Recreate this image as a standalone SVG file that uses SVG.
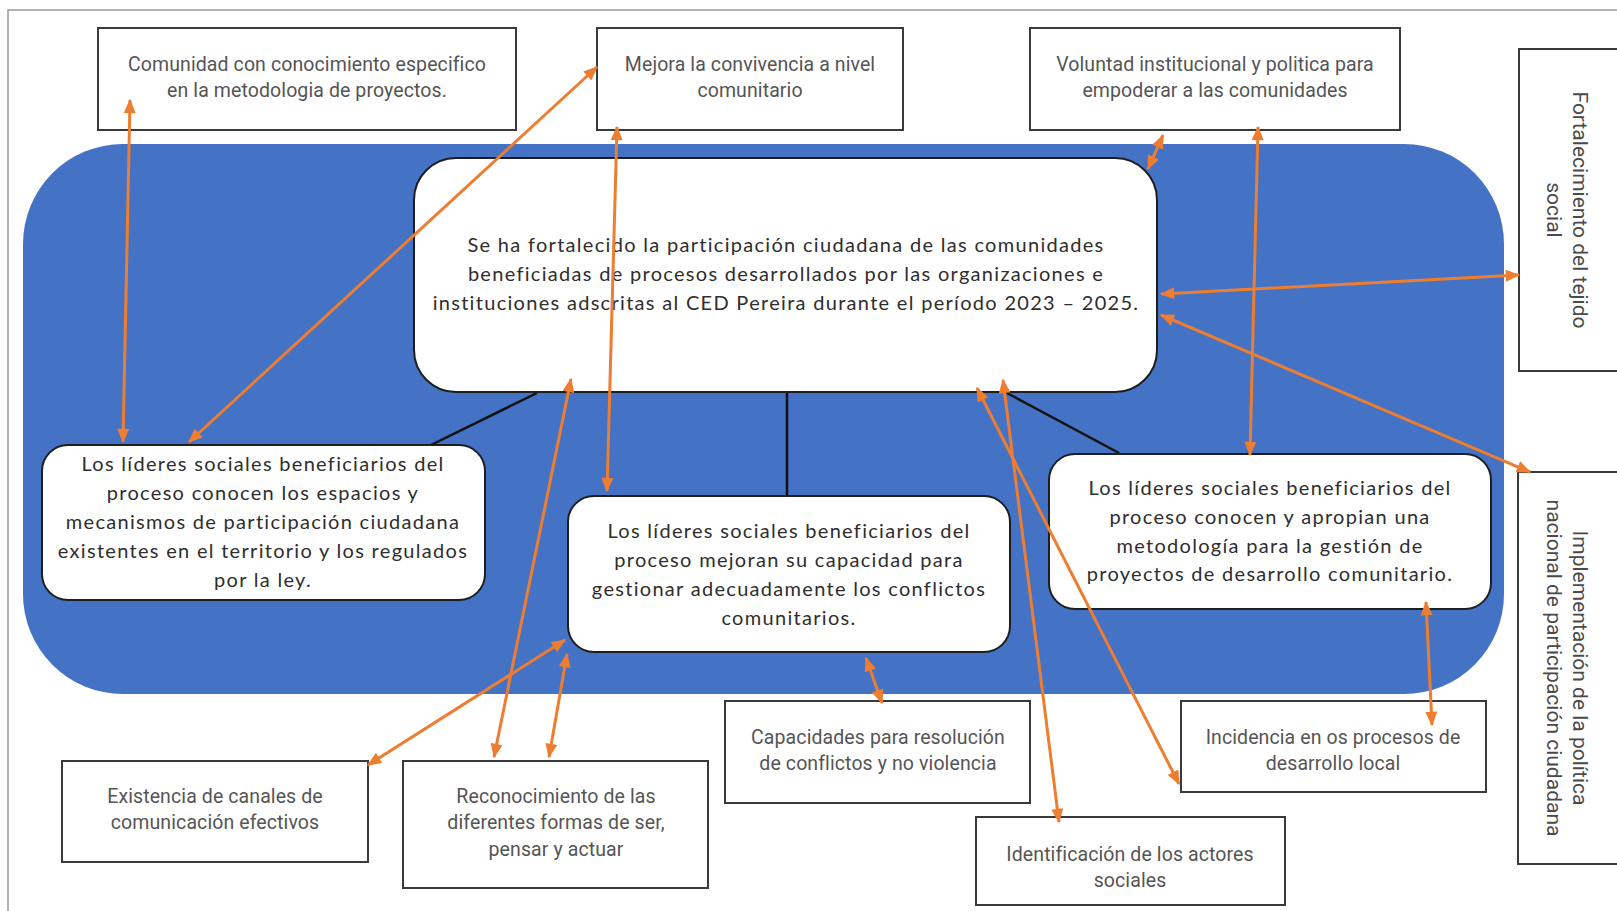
<svg xmlns="http://www.w3.org/2000/svg" width="1617" height="911" viewBox="0 0 1617 911">
<style>
.bg{fill:#ffffff}
.frame{fill:none;stroke:#9a9a9a;stroke-width:1.5}
.band{fill:#4472C4}
.box{fill:#ffffff;stroke:#3a3a3a;stroke-width:2}
.rbox{fill:#ffffff;stroke:#1e1e1e;stroke-width:2}
.ot{font-family:Roboto,"Liberation Sans",sans-serif;font-size:19.5px;letter-spacing:0.1px;fill:#555555;text-anchor:middle}
.vt{font-family:Roboto,"Liberation Sans",sans-serif;font-size:21px;fill:#4a4a4a;text-anchor:middle}
.it{font-family:Lato,"Liberation Sans",sans-serif;font-size:20px;letter-spacing:1.3px;fill:#2e2e2e;text-anchor:middle}
.link{stroke:#111111;stroke-width:2.5;fill:none}
.arr{stroke:#ED7D31;stroke-width:3;fill:none;marker-start:url(#ah);marker-end:url(#ah)}
</style>
<defs>
<marker id="ah" viewBox="0 0 12 10" refX="11" refY="5" markerWidth="15" markerHeight="12" markerUnits="userSpaceOnUse" orient="auto-start-reverse">
<path d="M0,0 L12,5 L0,10 z" fill="#ED7D31"/>
</marker>
</defs>
<rect class="bg" x="0" y="0" width="1617" height="911"/>
<rect class="frame" x="8" y="10" width="1700" height="1000"/>
<rect class="band" x="23" y="144" width="1481" height="550" rx="100" ry="100"/>

<g id="connectors-tree">
<line class="link" x1="537" y1="393" x2="431" y2="445"/>
<line class="link" x1="787" y1="392" x2="787" y2="496"/>
<line class="link" x1="1005" y1="392" x2="1119" y2="453"/>
</g>

<g id="n-central">
<rect class="rbox" x="414" y="158" width="743" height="234" rx="42" ry="42"/>
<text class="it"><tspan x="786" y="252">Se ha fortalecido la participación ciudadana de las comunidades</tspan><tspan x="786" y="281">beneficiadas de procesos desarrollados por las organizaciones e</tspan><tspan x="786" y="310">instituciones adscritas al CED Pereira durante el período 2023 – 2025.</tspan></text>
</g>
<g id="n-left">
<rect class="rbox" x="42" y="445" width="443" height="155" rx="26" ry="26"/>
<text class="it"><tspan x="263" y="471">Los líderes sociales beneficiarios del</tspan><tspan x="263" y="500">proceso conocen los espacios y</tspan><tspan x="263" y="529">mecanismos de participación ciudadana</tspan><tspan x="263" y="558">existentes en el territorio y los regulados</tspan><tspan x="263" y="587">por la ley.</tspan></text>
</g>
<g id="n-middle">
<rect class="rbox" x="568" y="496" width="442" height="156" rx="26" ry="26"/>
<text class="it"><tspan x="789" y="538">Los líderes sociales beneficiarios del</tspan><tspan x="789" y="567">proceso mejoran su capacidad para</tspan><tspan x="789" y="596">gestionar adecuadamente los conflictos</tspan><tspan x="789" y="625">comunitarios.</tspan></text>
</g>
<g id="n-right">
<rect class="rbox" x="1049" y="454" width="442" height="155" rx="26" ry="26"/>
<text class="it"><tspan x="1270" y="495">Los líderes sociales beneficiarios del</tspan><tspan x="1270" y="524">proceso conocen y apropian una</tspan><tspan x="1270" y="553">metodología para la gestión de</tspan><tspan x="1270" y="581">proyectos de desarrollo comunitario.</tspan></text>
</g>

<g id="n-comunidad">
<rect class="box" x="98" y="28" width="418" height="102"/>
<text class="ot"><tspan x="307" y="71">Comunidad con conocimiento especifico</tspan><tspan x="307" y="97">en la metodologia de proyectos.</tspan></text>
</g>
<g id="n-mejora">
<rect class="box" x="597" y="28" width="306" height="102"/>
<text class="ot"><tspan x="750" y="71">Mejora la convivencia a nivel</tspan><tspan x="750" y="97">comunitario</tspan></text>
</g>
<g id="n-voluntad">
<rect class="box" x="1030" y="28" width="370" height="102"/>
<text class="ot"><tspan x="1215" y="71">Voluntad institucional y politica para</tspan><tspan x="1215" y="97">empoderar a las comunidades</tspan></text>
</g>
<g id="n-fortalecimiento">
<rect class="box" x="1519" y="49" width="110" height="322"/>
<text class="vt" transform="translate(1573,210) rotate(90)"><tspan x="0" y="0">Fortalecimiento del tejido</tspan><tspan x="0" y="26">social</tspan></text>
</g>
<g id="n-implementacion">
<rect class="box" x="1518" y="472" width="110" height="392"/>
<text class="vt" transform="translate(1573,668) rotate(90)"><tspan x="0" y="0">Implementación de la política</tspan><tspan x="0" y="26">nacional de participación ciudadana</tspan></text>
</g>
<g id="n-existencia">
<rect class="box" x="62" y="761" width="306" height="101"/>
<text class="ot"><tspan x="215" y="803">Existencia de canales de</tspan><tspan x="215" y="829">comunicación efectivos</tspan></text>
</g>
<g id="n-reconocimiento">
<rect class="box" x="403" y="761" width="305" height="127"/>
<text class="ot"><tspan x="556" y="803">Reconocimiento de las</tspan><tspan x="556" y="829">diferentes formas de ser,</tspan><tspan x="556" y="856">pensar y actuar</tspan></text>
</g>
<g id="n-capacidades">
<rect class="box" x="725" y="701" width="305" height="102"/>
<text class="ot"><tspan x="878" y="744">Capacidades para resolución</tspan><tspan x="878" y="770">de conflictos y no violencia</tspan></text>
</g>
<g id="n-identificacion">
<rect class="box" x="976" y="817" width="309" height="88"/>
<text class="ot"><tspan x="1130" y="861">Identificación de los actores</tspan><tspan x="1130" y="887">sociales</tspan></text>
</g>
<g id="n-incidencia">
<rect class="box" x="1181" y="701" width="305" height="91"/>
<text class="ot"><tspan x="1333" y="744">Incidencia en os procesos de</tspan><tspan x="1333" y="770">desarrollo local</tspan></text>
</g>

<g id="connectors">
<line class="arr" x1="130" y1="100" x2="123" y2="442"/>
<line class="arr" x1="597" y1="67" x2="189" y2="442"/>
<line class="arr" x1="617" y1="127" x2="607" y2="491"/>
<line class="arr" x1="1163" y1="135" x2="1148" y2="169"/>
<line class="arr" x1="1258" y1="127" x2="1250" y2="455"/>
<line class="arr" x1="1161" y1="294" x2="1519" y2="275"/>
<line class="arr" x1="1161" y1="315" x2="1530" y2="472"/>
<line class="arr" x1="571" y1="379" x2="494" y2="757"/>
<line class="arr" x1="565" y1="640" x2="368" y2="765"/>
<line class="arr" x1="567" y1="654" x2="549" y2="757"/>
<line class="arr" x1="866" y1="658" x2="882" y2="703"/>
<line class="arr" x1="977" y1="388" x2="1179" y2="784"/>
<line class="arr" x1="1003" y1="380" x2="1059" y2="822"/>
<line class="arr" x1="1426" y1="602" x2="1432" y2="725"/>
</g>
</svg>
